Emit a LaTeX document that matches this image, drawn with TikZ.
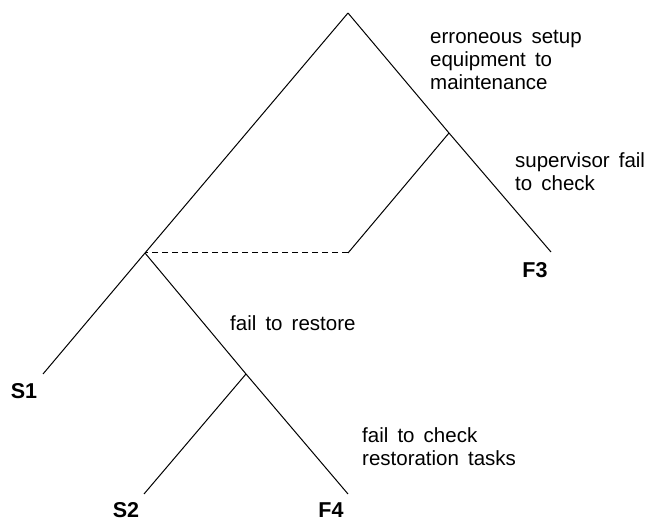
\documentclass[tikz,border=0pt]{standalone}
\usepackage{fontspec}
\setmainfont[WordSpace=1.6]{Liberation Sans}
\usepackage{tikz}
\usetikzlibrary{positioning}

\begin{document}
\begin{tikzpicture}[
  x=1pt, y=-1pt,
  font=\fontsize{20.5}{23}\selectfont,
  branch/.style={draw, line width=1pt},
  cross/.style={draw, line width=1pt, dash pattern=on 6pt off 4pt},
  lab/.style={align=left, anchor=west, inner sep=0pt},
  endlab/.style={font=\fontsize{21.5}{23}\selectfont\bfseries, inner sep=0pt},
]
  \useasboundingbox (0,0) rectangle (654,521);

  % junctions of the tree
  \coordinate (top) at (348,13);
  \coordinate (jright) at (449,133);
  \coordinate (jleft) at (145,253);
  \coordinate (jcross) at (348,253);
  \coordinate (jlow) at (246,374);

  % free ends
  \coordinate (s1end) at (43,374);
  \coordinate (f3end) at (551,252);
  \coordinate (s2end) at (144,494);
  \coordinate (f4end) at (348,494);

  % end labels
  \node[endlab] (s1) at (24,391) {S1};
  \node[endlab] (f3) at (535,270) {F3};
  \node[endlab] (s2) at (126,510) {S2};
  \node[endlab] (f4) at (331,510) {F4};

  % branch labels
  \node[lab] (setup) at (430,60) {erroneous setup\\equipment to\\maintenance};
  \node[lab] (superv) at (515,172) {supervisor fail\\to check};
  \node[lab] (restore) at (230,323) {fail to restore};
  \node[lab] (check) at (362,447) {fail to check\\restoration tasks};

  % tree
  \draw[branch] (top) -- (jleft) -- (s1end);
  \draw[branch] (top) -- (jright) -- (f3end);
  \draw[branch] (jright) -- (jcross);
  \draw[cross] (jcross) -- (jleft);
  \draw[branch] (jleft) -- (jlow) -- (f4end);
  \draw[branch] (jlow) -- (s2end);
\end{tikzpicture}
\end{document}
